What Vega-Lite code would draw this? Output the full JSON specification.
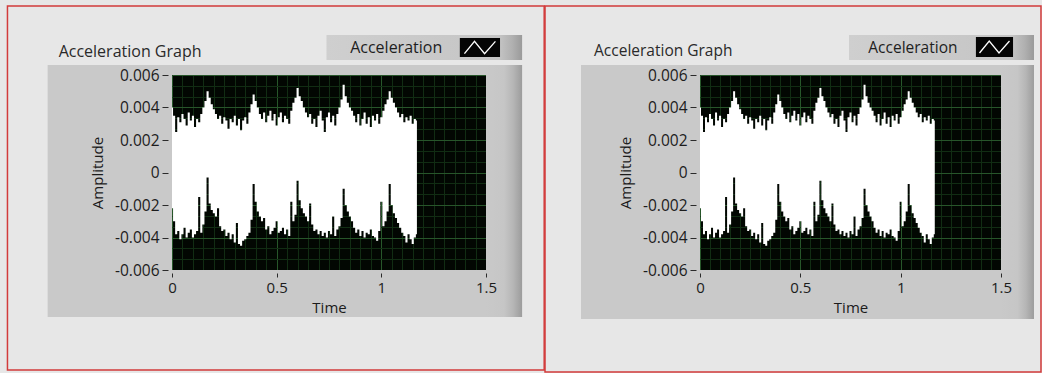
{
"$schema": "https://vega.github.io/schema/vega-lite/v6.json",
"padding": {"left": 6, "top": 5, "right": 0, "bottom": 0},
"autosize": {"type": "pad"},
"bounds": "flush",
"spacing": 214,
"background": "#e7e7e7",
"datasets": {"sig": [
{"t":0.00,"hi":0.0040,"lo":-0.0022},{"t":0.01,"hi":0.0035,"lo":-0.0030},{"t":0.02,"hi":0.0025,"lo":-0.0038},{"t":0.03,"hi":0.0034,"lo":-0.0036},{"t":0.04,"hi":0.0031,"lo":-0.0041},{"t":0.05,"hi":0.0036,"lo":-0.0038},{"t":0.06,"hi":0.0033,"lo":-0.0034},{"t":0.07,"hi":0.0029,"lo":-0.0040},{"t":0.08,"hi":0.0037,"lo":-0.0037},{"t":0.09,"hi":0.0032,"lo":-0.0035},
{"t":0.10,"hi":0.0035,"lo":-0.0040},{"t":0.11,"hi":0.0028,"lo":-0.0038},{"t":0.12,"hi":0.0033,"lo":-0.0036},{"t":0.13,"hi":0.0031,"lo":-0.0015},{"t":0.14,"hi":0.0036,"lo":-0.0037},{"t":0.15,"hi":0.0040,"lo":-0.0032},{"t":0.16,"hi":0.0044,"lo":-0.0024},{"t":0.17,"hi":0.0050,"lo":-0.0003},{"t":0.18,"hi":0.0046,"lo":-0.0019},{"t":0.19,"hi":0.0042,"lo":-0.0023},
{"t":0.20,"hi":0.0039,"lo":-0.0025},{"t":0.21,"hi":0.0036,"lo":-0.0027},{"t":0.22,"hi":0.0033,"lo":-0.0022},{"t":0.23,"hi":0.0035,"lo":-0.0033},{"t":0.24,"hi":0.0030,"lo":-0.0036},{"t":0.25,"hi":0.0034,"lo":-0.0035},{"t":0.26,"hi":0.0032,"lo":-0.0039},{"t":0.27,"hi":0.0027,"lo":-0.0037},{"t":0.28,"hi":0.0033,"lo":-0.0041},{"t":0.29,"hi":0.0031,"lo":-0.0038},
{"t":0.30,"hi":0.0035,"lo":-0.0043},{"t":0.31,"hi":0.0029,"lo":-0.0031},{"t":0.32,"hi":0.0033,"lo":-0.0044},{"t":0.33,"hi":0.0026,"lo":-0.0045},{"t":0.34,"hi":0.0032,"lo":-0.0042},{"t":0.35,"hi":0.0034,"lo":-0.0041},{"t":0.36,"hi":0.0030,"lo":-0.0039},{"t":0.37,"hi":0.0037,"lo":-0.0037},{"t":0.38,"hi":0.0042,"lo":-0.0029},{"t":0.39,"hi":0.0048,"lo":-0.0007},
{"t":0.40,"hi":0.0044,"lo":-0.0018},{"t":0.41,"hi":0.0040,"lo":-0.0024},{"t":0.42,"hi":0.0036,"lo":-0.0027},{"t":0.43,"hi":0.0033,"lo":-0.0030},{"t":0.44,"hi":0.0037,"lo":-0.0028},{"t":0.45,"hi":0.0031,"lo":-0.0035},{"t":0.46,"hi":0.0035,"lo":-0.0033},{"t":0.47,"hi":0.0038,"lo":-0.0038},{"t":0.48,"hi":0.0032,"lo":-0.0036},{"t":0.49,"hi":0.0036,"lo":-0.0034},
{"t":0.50,"hi":0.0029,"lo":-0.0030},{"t":0.51,"hi":0.0034,"lo":-0.0037},{"t":0.52,"hi":0.0037,"lo":-0.0036},{"t":0.53,"hi":0.0031,"lo":-0.0034},{"t":0.54,"hi":0.0035,"lo":-0.0038},{"t":0.55,"hi":0.0033,"lo":-0.0035},{"t":0.56,"hi":0.0030,"lo":-0.0039},{"t":0.57,"hi":0.0038,"lo":-0.0018},{"t":0.58,"hi":0.0043,"lo":-0.0030},{"t":0.59,"hi":0.0046,"lo":-0.0026},
{"t":0.60,"hi":0.0052,"lo":-0.0005},{"t":0.61,"hi":0.0047,"lo":-0.0017},{"t":0.62,"hi":0.0044,"lo":-0.0022},{"t":0.63,"hi":0.0040,"lo":-0.0025},{"t":0.64,"hi":0.0037,"lo":-0.0027},{"t":0.65,"hi":0.0034,"lo":-0.0030},{"t":0.66,"hi":0.0036,"lo":-0.0019},{"t":0.67,"hi":0.0030,"lo":-0.0032},{"t":0.68,"hi":0.0033,"lo":-0.0036},{"t":0.69,"hi":0.0028,"lo":-0.0035},
{"t":0.70,"hi":0.0035,"lo":-0.0038},{"t":0.71,"hi":0.0038,"lo":-0.0036},{"t":0.72,"hi":0.0032,"lo":-0.0039},{"t":0.73,"hi":0.0025,"lo":-0.0037},{"t":0.74,"hi":0.0034,"lo":-0.0040},{"t":0.75,"hi":0.0037,"lo":-0.0036},{"t":0.76,"hi":0.0031,"lo":-0.0038},{"t":0.77,"hi":0.0035,"lo":-0.0027},{"t":0.78,"hi":0.0029,"lo":-0.0039},{"t":0.79,"hi":0.0036,"lo":-0.0035},
{"t":0.80,"hi":0.0040,"lo":-0.0033},{"t":0.81,"hi":0.0045,"lo":-0.0028},{"t":0.82,"hi":0.0054,"lo":-0.0010},{"t":0.83,"hi":0.0047,"lo":-0.0020},{"t":0.84,"hi":0.0043,"lo":-0.0024},{"t":0.85,"hi":0.0040,"lo":-0.0027},{"t":0.86,"hi":0.0038,"lo":-0.0030},{"t":0.87,"hi":0.0035,"lo":-0.0034},{"t":0.88,"hi":0.0031,"lo":-0.0037},{"t":0.89,"hi":0.0036,"lo":-0.0035},
{"t":0.90,"hi":0.0029,"lo":-0.0039},{"t":0.91,"hi":0.0033,"lo":-0.0036},{"t":0.92,"hi":0.0037,"lo":-0.0040},{"t":0.93,"hi":0.0030,"lo":-0.0037},{"t":0.94,"hi":0.0034,"lo":-0.0038},{"t":0.95,"hi":0.0028,"lo":-0.0035},{"t":0.96,"hi":0.0035,"lo":-0.0039},{"t":0.97,"hi":0.0032,"lo":-0.0040},{"t":0.98,"hi":0.0036,"lo":-0.0042},{"t":0.99,"hi":0.0030,"lo":-0.0036},
{"t":1.00,"hi":0.0034,"lo":-0.0018},{"t":1.01,"hi":0.0038,"lo":-0.0033},{"t":1.02,"hi":0.0042,"lo":-0.0030},{"t":1.03,"hi":0.0045,"lo":-0.0024},{"t":1.04,"hi":0.0050,"lo":-0.0007},{"t":1.05,"hi":0.0046,"lo":-0.0020},{"t":1.06,"hi":0.0043,"lo":-0.0025},{"t":1.07,"hi":0.0040,"lo":-0.0028},{"t":1.08,"hi":0.0037,"lo":-0.0031},{"t":1.09,"hi":0.0034,"lo":-0.0034},
{"t":1.10,"hi":0.0036,"lo":-0.0037},{"t":1.11,"hi":0.0031,"lo":-0.0039},{"t":1.12,"hi":0.0034,"lo":-0.0043},{"t":1.13,"hi":0.0032,"lo":-0.0038},{"t":1.14,"hi":0.0035,"lo":-0.0041},{"t":1.15,"hi":0.0030,"lo":-0.0044},{"t":1.16,"hi":0.0033,"lo":-0.0040},{"t":1.17,"hi":0.0032,"lo":-0.0038}
]},
"hconcat": [
{
"width": 314, "height": 195,
"layer": [
{"data": {"values": [{}]}, "mark": {"type": "rect", "filled": false, "stroke": "#d23b3b", "strokeWidth": 1.5, "clip": false},
 "encoding": {"x": {"datum": -0.786, "type": "quantitative", "axis": null}, "x2": {"datum": 1.778}, "y": {"datum": 0.010246, "type": "quantitative", "axis": null}, "y2": {"datum": -0.012154}}},
{"data": {"values": [{}]}, "mark": {"type": "rect", "fill": "#c9c9c9", "clip": false},
 "encoding": {
  "x": {"datum": -0.594, "type": "quantitative", "axis": {"orient": "top", "values": [0,0.05,0.1,0.15,0.2,0.25,0.3,0.35,0.4,0.45,0.5,0.55,0.6,0.65,0.7,0.75,0.8,0.85,0.9,0.95,1,1.05,1.1,1.15,1.2,1.25,1.3,1.35,1.4,1.45,1.5], "grid": true, "gridColor": {"condition": {"test": "abs(datum.value*2 - round(datum.value*2)) < 0.001", "value": "#27562a"}, "value": "#112d13"}, "gridWidth": 1, "gridOpacity": 1, "domain": false, "ticks": false, "labels": false, "title": null, "zindex": 0}},
  "x2": {"datum": 0},
  "y": {"datum": 0.006615, "type": "quantitative", "axis": {"orient": "right", "values": [-0.006,-0.005333,-0.004667,-0.004,-0.003333,-0.002667,-0.002,-0.001333,-0.000667,0,0.000667,0.001333,0.002,0.002667,0.003333,0.004,0.004667,0.005333,0.006], "grid": true, "gridColor": {"condition": {"test": "abs(datum.value*500 - round(datum.value*500)) < 0.01", "value": "#27562a"}, "value": "#112d13"}, "gridWidth": 1, "gridOpacity": 1, "domain": false, "ticks": false, "labels": false, "title": null, "zindex": 0}},
  "y2": {"datum": -0.008892}}},
{"data": {"values": [{}]}, "mark": {"type": "rect", "clip": false, "fill": {"gradient": "linear", "x1": 0, "x2": 1, "y1": 0, "y2": 0, "stops": [{"offset": 0, "color": "#c9c9c9"}, {"offset": 0.5, "color": "#c6c6c6"}, {"offset": 0.75, "color": "#b6b6b6"}, {"offset": 1, "color": "#9c9c9c"}]}},
 "encoding": {"x": {"datum": 1.5, "type": "quantitative", "axis": null}, "x2": {"datum": 1.6725}, "y": {"datum": 0.006615, "type": "quantitative", "axis": null}, "y2": {"datum": -0.008892}}},
{"data": {"values": [{}]}, "mark": {"type": "rect", "fill": "#c9c9c9", "clip": false},
 "encoding": {"x": {"datum": 0, "type": "quantitative", "axis": null}, "x2": {"datum": 1.5}, "y": {"datum": 0.006615, "type": "quantitative", "axis": null}, "y2": {"datum": 0.006}}},
{"data": {"values": [{}]}, "mark": {"type": "rect", "fill": "#c9c9c9", "clip": false},
 "encoding": {"x": {"datum": 0, "type": "quantitative", "axis": null}, "x2": {"datum": 1.5}, "y": {"datum": -0.006, "type": "quantitative", "axis": null}, "y2": {"datum": -0.008892}}},
{"data": {"values": [{}]}, "mark": {"type": "rect", "clip": false, "fill": {"gradient": "linear", "x1": 0, "x2": 1, "y1": 0, "y2": 0, "stops": [{"offset": 0, "color": "#cfcfcf"}, {"offset": 0.88, "color": "#c5c5c5"}, {"offset": 0.95, "color": "#b0b0b0"}, {"offset": 1, "color": "#9a9a9a"}]}},
 "encoding": {"x": {"datum": 0.738, "type": "quantitative", "axis": null}, "x2": {"datum": 1.6725}, "y": {"datum": 0.008462, "type": "quantitative", "axis": null}, "y2": {"datum": 0.006923}}},
{"data": {"values": [{}]}, "mark": {"type": "rect", "fill": "#050505", "clip": false},
 "encoding": {"x": {"datum": 1.375, "type": "quantitative", "axis": null}, "x2": {"datum": 1.567}, "y": {"datum": 0.008277, "type": "quantitative", "axis": null}, "y2": {"datum": 0.007108}}},
{"data": {"values": [{}]}, "mark": {"type": "point", "shape": "M-1,0.4L-0.35,-0.4L0.3,0.4L1,-0.4", "size": 961, "filled": false, "stroke": "#ffffff", "strokeWidth": 1.3, "opacity": 1, "clip": false},
 "encoding": {"x": {"datum": 1.471, "type": "quantitative", "axis": null}, "y": {"datum": 0.007692, "type": "quantitative", "axis": null}}},
{"data": {"values": [{}]}, "mark": {"type": "text", "text": "Acceleration", "font": "Open Sans", "fontSize": 16, "color": "#1e1e1e", "align": "center", "baseline": "middle", "clip": false},
 "encoding": {"x": {"datum": 1.071, "type": "quantitative", "axis": null}, "y": {"datum": 0.007692, "type": "quantitative", "axis": null}}},
{"data": {"values": [{}]}, "mark": {"type": "text", "text": "Acceleration Graph", "font": "Open Sans", "fontSize": 16, "color": "#2a2a2a", "align": "left", "baseline": "alphabetic", "clip": false},
 "encoding": {"x": {"datum": -0.5415, "type": "quantitative", "axis": null}, "y": {"datum": 0.007108, "type": "quantitative", "axis": null}}},
{"data": {"name": "sig"}, "mark": {"type": "area", "interpolate": "step", "color": "#ffffff", "opacity": 1, "clip": true},
 "encoding": {
  "x": {"field": "t", "type": "quantitative", "scale": {"domain": [0, 1.5], "nice": false, "zero": false},
   "axis": {"orient": "bottom", "values": [0, 0.5, 1, 1.5], "format": "~g", "grid": false, "domain": false, "tickSize": 4, "offset": 3, "labelPadding": 3, "title": "Time", "titlePadding": 5, "zindex": 1}},
  "y": {"field": "hi", "type": "quantitative", "scale": {"domain": [-0.006, 0.006], "nice": false, "zero": false},
   "axis": {"orient": "left", "values": [-0.006, -0.004, -0.002, 0, 0.002, 0.004, 0.006], "labelExpr": "datum.value === 0 ? '0' : replace(format(datum.value, '.3f'), '\u2212', '-')", "grid": false, "domain": false, "tickSize": 6, "offset": 4, "labelPadding": 3, "labelFontSize": 15.5, "title": "Amplitude", "titlePadding": 9, "zindex": 1}},
  "y2": {"field": "lo"}}}
]
},
{
"width": 301, "height": 195,
"layer": [
{"data": {"values": [{}]}, "mark": {"type": "rect", "filled": false, "stroke": "#d23b3b", "strokeWidth": 1.5, "clip": false},
 "encoding": {"x": {"datum": -0.7724, "type": "quantitative", "axis": null}, "x2": {"datum": 1.6993}, "y": {"datum": 0.010246, "type": "quantitative", "axis": null}, "y2": {"datum": -0.012277}}},
{"data": {"values": [{}]}, "mark": {"type": "rect", "fill": "#c9c9c9", "clip": false},
 "encoding": {
  "x": {"datum": -0.593, "type": "quantitative", "axis": {"orient": "top", "values": [0,0.05,0.1,0.15,0.2,0.25,0.3,0.35,0.4,0.45,0.5,0.55,0.6,0.65,0.7,0.75,0.8,0.85,0.9,0.95,1,1.05,1.1,1.15,1.2,1.25,1.3,1.35,1.4,1.45,1.5], "grid": true, "gridColor": {"condition": {"test": "abs(datum.value*2 - round(datum.value*2)) < 0.001", "value": "#27562a"}, "value": "#112d13"}, "gridWidth": 1, "gridOpacity": 1, "domain": false, "ticks": false, "labels": false, "title": null, "zindex": 0}},
  "x2": {"datum": 0},
  "y": {"datum": 0.006615, "type": "quantitative", "axis": {"orient": "right", "values": [-0.006,-0.005333,-0.004667,-0.004,-0.003333,-0.002667,-0.002,-0.001333,-0.000667,0,0.000667,0.001333,0.002,0.002667,0.003333,0.004,0.004667,0.005333,0.006], "grid": true, "gridColor": {"condition": {"test": "abs(datum.value*500 - round(datum.value*500)) < 0.01", "value": "#27562a"}, "value": "#112d13"}, "gridWidth": 1, "gridOpacity": 1, "domain": false, "ticks": false, "labels": false, "title": null, "zindex": 0}},
  "y2": {"datum": -0.009015}}},
{"data": {"values": [{}]}, "mark": {"type": "rect", "clip": false, "fill": {"gradient": "linear", "x1": 0, "x2": 1, "y1": 0, "y2": 0, "stops": [{"offset": 0, "color": "#c9c9c9"}, {"offset": 0.5, "color": "#c6c6c6"}, {"offset": 0.75, "color": "#b6b6b6"}, {"offset": 1, "color": "#9c9c9c"}]}},
 "encoding": {"x": {"datum": 1.5, "type": "quantitative", "axis": null}, "x2": {"datum": 1.6644}, "y": {"datum": 0.006615, "type": "quantitative", "axis": null}, "y2": {"datum": -0.009015}}},
{"data": {"values": [{}]}, "mark": {"type": "rect", "fill": "#c9c9c9", "clip": false},
 "encoding": {"x": {"datum": 0, "type": "quantitative", "axis": null}, "x2": {"datum": 1.5}, "y": {"datum": 0.006615, "type": "quantitative", "axis": null}, "y2": {"datum": 0.006}}},
{"data": {"values": [{}]}, "mark": {"type": "rect", "fill": "#c9c9c9", "clip": false},
 "encoding": {"x": {"datum": 0, "type": "quantitative", "axis": null}, "x2": {"datum": 1.5}, "y": {"datum": -0.006, "type": "quantitative", "axis": null}, "y2": {"datum": -0.009015}}},
{"data": {"values": [{}]}, "mark": {"type": "rect", "clip": false, "fill": {"gradient": "linear", "x1": 0, "x2": 1, "y1": 0, "y2": 0, "stops": [{"offset": 0, "color": "#cfcfcf"}, {"offset": 0.88, "color": "#c5c5c5"}, {"offset": 0.95, "color": "#b0b0b0"}, {"offset": 1, "color": "#9a9a9a"}]}},
 "encoding": {"x": {"datum": 0.7425, "type": "quantitative", "axis": null}, "x2": {"datum": 1.6644}, "y": {"datum": 0.008462, "type": "quantitative", "axis": null}, "y2": {"datum": 0.006923}}},
{"data": {"values": [{}]}, "mark": {"type": "rect", "fill": "#050505", "clip": false},
 "encoding": {"x": {"datum": 1.375, "type": "quantitative", "axis": null}, "x2": {"datum": 1.56}, "y": {"datum": 0.008338, "type": "quantitative", "axis": null}, "y2": {"datum": 0.007108}}},
{"data": {"values": [{}]}, "mark": {"type": "point", "shape": "M-1,0.4L-0.35,-0.4L0.3,0.4L1,-0.4", "size": 900, "filled": false, "stroke": "#ffffff", "strokeWidth": 1.3, "opacity": 1, "clip": false},
 "encoding": {"x": {"datum": 1.4676, "type": "quantitative", "axis": null}, "y": {"datum": 0.007723, "type": "quantitative", "axis": null}}},
{"data": {"values": [{}]}, "mark": {"type": "text", "text": "Acceleration", "font": "Open Sans", "fontSize": 15.5, "color": "#1e1e1e", "align": "center", "baseline": "middle", "clip": false},
 "encoding": {"x": {"datum": 1.061, "type": "quantitative", "axis": null}, "y": {"datum": 0.007692, "type": "quantitative", "axis": null}}},
{"data": {"values": [{}]}, "mark": {"type": "text", "text": "Acceleration Graph", "font": "Open Sans", "fontSize": 15.5, "color": "#2a2a2a", "align": "left", "baseline": "alphabetic", "clip": false},
 "encoding": {"x": {"datum": -0.528, "type": "quantitative", "axis": null}, "y": {"datum": 0.007169, "type": "quantitative", "axis": null}}},
{"data": {"name": "sig"}, "mark": {"type": "area", "interpolate": "step", "color": "#ffffff", "opacity": 1, "clip": true},
 "encoding": {
  "x": {"field": "t", "type": "quantitative", "scale": {"domain": [0, 1.5], "nice": false, "zero": false},
   "axis": {"orient": "bottom", "values": [0, 0.5, 1, 1.5], "format": "~g", "grid": false, "domain": false, "tickSize": 4, "offset": 3, "labelPadding": 3, "title": "Time", "titlePadding": 5, "zindex": 1}},
  "y": {"field": "hi", "type": "quantitative", "scale": {"domain": [-0.006, 0.006], "nice": false, "zero": false},
   "axis": {"orient": "left", "values": [-0.006, -0.004, -0.002, 0, 0.002, 0.004, 0.006], "labelExpr": "datum.value === 0 ? '0' : replace(format(datum.value, '.3f'), '\u2212', '-')", "grid": false, "domain": false, "tickSize": 6, "offset": 4, "labelPadding": 3, "labelFontSize": 15.5, "title": "Amplitude", "titlePadding": 9, "zindex": 1}},
  "y2": {"field": "lo"}}}
]
}
],
"config": {
 "view": {"stroke": null, "fill": "#020702"},
 "font": "Open Sans",
 "axis": {"labelFont": "Open Sans", "titleFont": "Open Sans", "labelColor": "#1c1c1c", "titleColor": "#1c1c1c", "titleFontWeight": "normal", "labelFontSize": 15, "titleFontSize": 15, "tickColor": "#2a2a2a", "tickWidth": 1, "labelOverlap": false, "labelFlush": false, "labelBound": false}
}
}
